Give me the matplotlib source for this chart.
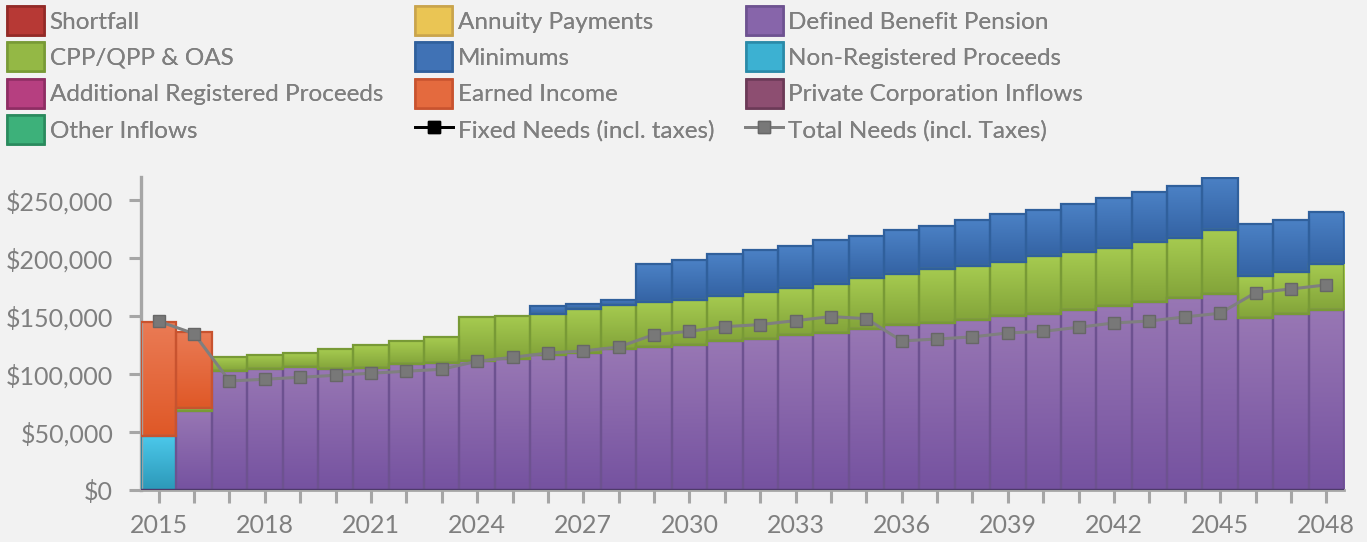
import numpy as np
import matplotlib
matplotlib.use("Agg")
import matplotlib.pyplot as plt
from matplotlib.colors import LinearSegmentedColormap
from matplotlib.patches import Rectangle, Patch
from matplotlib.lines import Line2D
from matplotlib.legend_handler import HandlerBase
from matplotlib.ticker import FuncFormatter

# ---------------- data (dollars) ----------------
years = list(range(2015, 2049))

non_registered = [47000] + [0] * 33
earned_income = [98000, 65800] + [0] * 32
defined_benefit = [0, 68400, 103100, 104300, 106600, 104800, 105400, 108900, 110000,
                   111700, 113400, 116600, 118600, 121500, 123300, 125000, 128400,
                   130200, 133600, 135300, 138800, 142200, 143900, 147100, 150500,
                   152200, 155700, 159100, 162600, 166000, 169500, 148800, 152200,
                   155700]
cpp_oas = [0, 2300, 11500, 12100, 11500, 16800, 19600, 19500, 21900,
           37400, 37100, 35600, 37400, 38000, 39300, 39300, 39400,
           41000, 41100, 42800, 44500, 44300, 46600, 46500, 46600,
           49800, 50000, 50000, 51700, 51800, 54900, 36200, 36300,
           39700]
minimums = [0] * 11 + [6900, 4900, 4800, 32500, 34200, 35900,
                       36000, 35900, 37700, 35900, 37900, 37300, 39400, 41100,
                       39600, 41100, 42900, 42900, 44500, 45100, 44800, 44500,
                       44600]
total_needs = [145700, 135000, 94200, 95700, 97400, 99100, 100900, 102600, 104300,
               111200, 114600, 118300, 120100, 123500, 134200, 137000, 141000,
               142800, 146200, 149700, 147900, 128700, 130400, 132200, 135600,
               137000, 140500, 144200, 145900, 149400, 152600, 170300, 173500,
               177000]

legend_labels = ["Shortfall", "Annuity Payments", "Defined Benefit Pension",
                 "CPP/QPP & OAS", "Minimums", "Non-Registered Proceeds",
                 "Additional Registered Proceeds", "Earned Income", "Private Corporation Inflows",
                 "Other Inflows", "Fixed Needs (incl. taxes)", "Total Needs (incl. Taxes)"]
ytick_values = [0, 50000, 100000, 150000, 200000, 250000]
xtick_label_years = [2015, 2018, 2021, 2024, 2027, 2030, 2033, 2036, 2039, 2042, 2045, 2048]

# ---------------- style ----------------
BG = "#f2f2f2"
TXT = "#7f7f7f"
plt.rcParams["font.family"] = ["Lato", "DejaVu Sans"]

# (top colour, bottom colour, edge colour)
C = {
    "Shortfall": ("#c8443f", "#a52e2b", "#922a27"),
    "Annuity Payments": ("#f2d57e", "#e2b52a", "#c9a44c"),
    "Defined Benefit Pension": ("#9877b4", "#7552a0", "#6d5290"),
    "CPP/QPP & OAS": ("#a6cb50", "#83a43a", "#789a36"),
    "Minimums": ("#4b81c5", "#3463a4", "#30609c"),
    "Non-Registered Proceeds": ("#4cc9eb", "#2c98b8", "#2a8aa8"),
    "Additional Registered Proceeds": ("#c54b8d", "#a63272", "#8e2d63"),
    "Earned Income": ("#ea7b55", "#df5827", "#c8532f"),
    "Private Corporation Inflows": ("#9d5d80", "#7c3e61", "#6b3a57"),
    "Other Inflows": ("#4cc58d", "#2d9c67", "#2a8a5d"),
}

fig = plt.figure(figsize=(13.67, 5.42), dpi=100, facecolor=BG)
ax = fig.add_axes([141 / 1367, 1 - 490.3 / 542, (1344 - 141) / 1367, (490.3 - 177) / 542])
ax.set_facecolor(BG)

grad = np.linspace(0, 1, 128).reshape(-1, 1)


def grad_bars(vals, bottoms, name):
    top_c, bot_c, edge_c = C[name]
    cmap = LinearSegmentedColormap.from_list(name, [bot_c, top_c])
    xs = [y for y, v in zip(years, vals) if v > 0]
    hs = [v for v in vals if v > 0]
    bs = [b for b, v in zip(bottoms, vals) if v > 0]
    bars = ax.bar(xs, hs, bottom=bs, width=1.0, facecolor="none",
                  edgecolor=edge_c, linewidth=1.6, zorder=3)
    for r in bars:
        x0, y0, w, h = r.get_x(), r.get_y(), r.get_width(), r.get_height()
        ax.imshow(grad, extent=[x0, x0 + w, y0, y0 + h], cmap=cmap, aspect="auto",
                  origin="lower", interpolation="bilinear", zorder=2)


bottom = np.zeros(len(years))
for vals, name in [(non_registered, "Non-Registered Proceeds"),
                   (defined_benefit, "Defined Benefit Pension"),
                   (cpp_oas, "CPP/QPP & OAS"),
                   (earned_income, "Earned Income"),
                   (minimums, "Minimums")]:
    grad_bars(vals, bottom, name)
    bottom = bottom + np.array(vals)

ax.plot(years, total_needs, color="#7f7f7f", lw=2.2, marker="s", ms=8.5,
        mfc="#787878", mec="#676767", mew=1.0, zorder=6)
ax.axhline(0, color="#4e3a6a", lw=2.4, zorder=5)

ax.set_xlim(2014.5, 2048.5)
ax.set_ylim(0, 270000)
ax.set_xticks(years)
ax.set_xticklabels([str(y) if y in xtick_label_years else "" for y in years])
ax.set_yticks(ytick_values)
ax.yaxis.set_major_formatter(FuncFormatter(lambda v, p: f"${v:,.0f}"))
ax.tick_params(axis="both", colors="#a6a6a6", labelcolor=TXT, labelsize=18,
               length=9, width=2.2)
ax.tick_params(axis="y", pad=11)
ax.tick_params(axis="x", pad=8)
for s in ["top", "right"]:
    ax.spines[s].set_visible(False)
ax.spines["left"].set_color("#a6a6a6")
ax.spines["left"].set_linewidth(2.4)
ax.spines["bottom"].set_color("#a6a6a6")
ax.spines["bottom"].set_linewidth(2.0)


# ---------------- legend ----------------
class SizedPatch(HandlerBase):
    def create_artists(self, legend, orig_handle, xdescent, ydescent, width, height,
                       fontsize, trans):
        w = 37 * 72 / 100
        h = 29 * 72 / 100
        cx = -xdescent + width / 2
        cy = -ydescent + height / 2
        p = Rectangle((cx - w / 2, cy - h / 2), w, h,
                      facecolor=orig_handle.get_facecolor(),
                      edgecolor=orig_handle.get_edgecolor(), linewidth=1.8,
                      transform=trans)
        return [p]


def mid(c1, c2):
    a = np.array(matplotlib.colors.to_rgb(c1))
    b = np.array(matplotlib.colors.to_rgb(c2))
    return tuple((a + b) / 2)


handles = {}
for name, (t, b, e) in C.items():
    handles[name] = Patch(facecolor=mid(t, b), edgecolor=e)
handles["Fixed Needs (incl. taxes)"] = Line2D([], [], color="black", lw=2, marker="s",
                                              ms=9, mfc="black", mec="black")
handles["Total Needs (incl. Taxes)"] = Line2D([], [], color="#7f7f7f", lw=2, marker="s",
                                              ms=9, mfc="#787878", mec="#676767")

fs = 17.5
fs_px = fs * 100 / 72
col_x = [6.7, 415, 745]
for ci in range(3):
    labs = legend_labels[ci::3]
    hs = [handles[l] for l in labs]
    leg = fig.legend(hs, labs, loc="upper left",
                     bbox_to_anchor=(col_x[ci] / 1367, 1 - 8.0 / 542),
                     frameon=False, fontsize=fs, labelcolor=TXT,
                     handlelength=38 / fs_px, handleheight=29 / fs_px,
                     handletextpad=5 / fs_px, labelspacing=11.5 / fs_px,
                     borderpad=0, borderaxespad=0,
                     handler_map={Patch: SizedPatch()})
    fig.add_artist(leg)

fig.savefig("out.png", dpi=100, facecolor=BG)
